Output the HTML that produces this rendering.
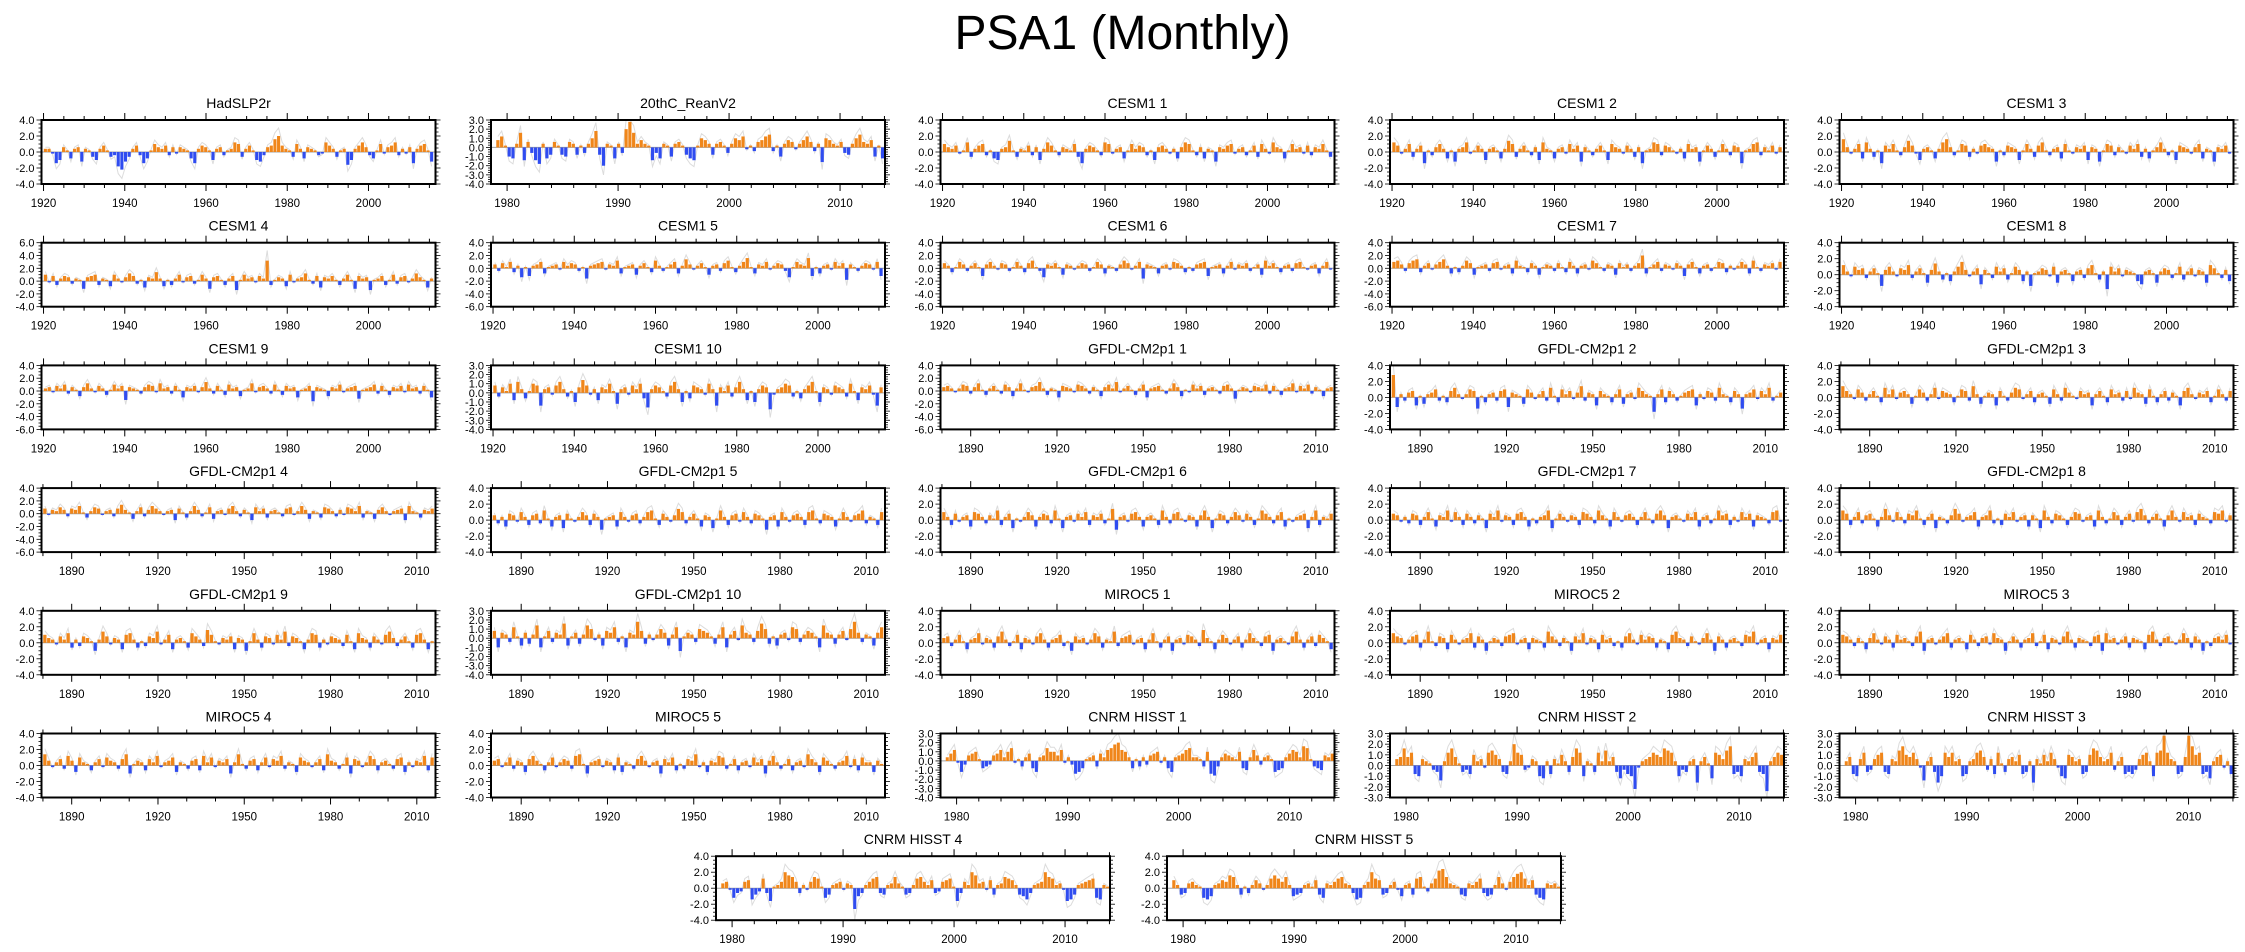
<!DOCTYPE html>
<html><head><meta charset="utf-8">
<style>
html,body{margin:0;padding:0;background:#fff;}
body{width:2245px;height:952px;overflow:hidden;font-family:"Liberation Sans",sans-serif;}
#title{position:absolute;left:0;width:2245px;top:6px;text-align:center;font-size:48px;line-height:56px;color:#000;}
svg{position:absolute;left:0;top:0;}
</style></head>
<body>
<div id="title">PSA1 (Monthly)</div>
<svg id="fig" width="2245" height="952"></svg>
<script>
// ---- data (binned monthly index values; lowercase = +0.2*n, uppercase = -0.2*n) ----
const panelNames = ["HadSLP2r","20thC_ReanV2","CESM1 1","CESM1 2","CESM1 3",
"CESM1 4","CESM1 5","CESM1 6","CESM1 7","CESM1 8",
"CESM1 9","CESM1 10","GFDL-CM2p1 1","GFDL-CM2p1 2","GFDL-CM2p1 3",
"GFDL-CM2p1 4","GFDL-CM2p1 5","GFDL-CM2p1 6","GFDL-CM2p1 7","GFDL-CM2p1 8",
"GFDL-CM2p1 9","GFDL-CM2p1 10","MIROC5 1","MIROC5 2","MIROC5 3",
"MIROC5 4","MIROC5 5","CNRM HISST 1","CNRM HISST 2","CNRM HISST 3",
"CNRM HISST 4","CNRM HISST 5"];
const panelKinds = ["cesm","cnrm","cesm","cesm","cesm","cesm","cesm","cesm","cesm","cesm",
"cesm","cesm","gfdl","gfdl","gfdl","gfdl","gfdl","gfdl","gfdl","gfdl",
"gfdl","gfdl","gfdl","gfdl","gfdl","gfdl","gfdl","cnrm","cnrm","cnrm","cnrm","cnrm"];
const yMax = [4,3,4,4,4, 6,4,4,4,4, 4,3,4,4,4, 4,4,4,4,4, 4,3,4,4,4, 4,4,3,3,3, 4,4];
const yMin = [-4,-4,-4,-4,-4, -4,-6,-6,-6,-4, -6,-4,-6,-4,-4, -6,-4,-4,-4,-4, -4,-4,-4,-4,-4, -4,-4,-4,-3,-3, -4,-4];
const panelSeries = [
"bbAGEcaDbcFbaCEbdaCBIKFCbdBGDaecbdBcAcbaDGbdcaEbcBabfeCbdaEFBcdhjdbaCebDcbaBAfdbCabHEbdfcBDaeAcdfBbAcGbdeaF",
"dfaEFbhGcCGIbFDcaDEcbDaCbeiDJbaFbCjnhbdbaGCFbaEbcaDFGaedbDbcaCbedfAaBcdfgBaEbdcAbdfcBbHedbacCDbegcbdEaF",
"ecbdAafCbdeBaDEbcgaCbadBcEbfdaBcbaeCGbdcaBfeAbcDaebdcBaEcdbAbDcfeaBcDbaFcbdeAbcBadCebAfcbDaebcAdBcbeaC",
"fdAbeCbdGaBcebDaFbcfAadbEbcaDbgeCbdaBcEfbaDbcAebdFcaBbdaEecbAdbCcGabfeBdcaAbDebcFadbCaebBdcGabefBcadAc",
"hcAbeDfbCaGdbeaBcgdAEbcaDbfhcBaedCbAdecbFaBdcbEaebCdfaBbcDeaAcbdEcbFaedBcaAdbeCbDacfbBaEdcbAceDbaFcbdA",
"eAdCbdcBbaFcdeCbaDebAcfdBaEcbgbDaCbeAcdBaebFcdaCbdGaebcAdbpCacbDeAbcfaBdEcbdaCbeaFdbcGabdCaeBcdAbfcaEb",
"cBdaeCbGaFbceDabcAebdcBaHbcdeAcbfDabcEbdaCfbBaceDbgcAbdaEbcBdfaCbehaDcbeAbdcBGaecbhFaDbcAebdIcaBbdcAeF",
"dbCaecBbdaFcebAdcBaebCdfaBGcbdaEcbAbdcBaecDbaBcfdAbeHcbaDbcAedbCaBcdeFabcDbeAcbdBacEfbdaCbcBdeaAbcDbeA",
"efcBdfgCbdAcegbDaCbfdEabcBdeAbcDfbaCdbEacbBdaCebDbcAfdaBcbEdacBbdjDaceBcbAdbFceaDbcBaedCbAbecDfaBcbdAe",
"fbAecdBbdaGcebAdcfBbdaEcgbCaDbehcAbdFcaBebdCaecDbGabdcAeEbcaDbcBdfaCbIebdAcbaDFbcaEbdcBaeCbdAcbEfdaBcD",
"bcAdbeBcaDcfbAdbCaebdGcbaBcedAfbcBdaEcbdAcgbBdaCebcDabfAcdbBeaCdbcEabdHcbaDcbeAbcdFabceBdaCcbdAebcBdaE",
"dBcaeDfbCaedGbcAdfbBaEcgdAbDcbeaFbcAdbeCHbdcaBdfbEaCdcbAebGcadBcfbDaEbdcIAbcedBaCbdfaEcbAdcbBeaDcbdAGc",
"cdbAbedBcfaCbdaBecDbfaAcdgbCbaEdcbAedbBcaDcebgAbdaCbeEbcdaBbfcDaAebdCbcaBdebFacbAdcbeBdaCbcfAdbeBcaDbc",
"nFbBcdEaDbceBaCdfbAbedGaCbcBdeFcbaDecAbdBfaCebdAcgBcbEdbaCbeDbcAfdbaIbeCdbBacdeEbAdcBfbaCdbGbceAdbfBac",
"gdbAecBbdaCfbeAcdbDaecBbfAdcbCaedBgbDacbEdaBcfeAbdCbcaDebBfcaAdbcEbdaCebcBdAfcbDeaCbdBcaEdfbAcbdCaebBd",
"dAcbecBdcfaCbedAbcBdgcaDbeBcfdbAbcEdaCbfcBaeDbcAdfbBcaEebdCbcaBdeAbfcDbaCedbBcAedbfCbaDcebAbcdEfbaCcbd",
"cBbDdcAebCcdBfaDbcEdaAbecCdbFabcDebAcdBbefaCdbAcgeBbdaDcbEafbCcdAebBdcaFbcDebAcdbCefaBdcbDaebAcdfBbaCe",
"ebCdAbcDedbBcafCbdEaAbecDbdcBfaEbcAdbeCcbdBagFbcAdebDbcaCfbBdeaAcbDcfbEadcBbecAdbCafdbBceDaAbcdEbfCbad",
"dcAbBdcCbeaDcbfAebCdbBcaEdbfAcbCdebDaBbcfEadbAcbCedbBfcaDebAcdbCbeaBdfcEbcaAdbeDbcBafcdCbAebdDcbaBefA",
"fdCbeBcdaDbgcAebBdcfaCbdEbaBcgdAbceDbcfBaCdbeAbcDcaEfbBdcaCbedAbcDfbBaecCbdAegcBbdaDcfbAebcCdbaBedfAc",
"ecbAdbfCbBdcaEbgdAcbDefbCaBdcgAbeDbcaCfdbBheaAcbdDcbEafbCdcAebgBdcaDbfeCbAdcbBeaDfcbCdbAegcBbdaCefbDa",
"dEcbBfaDcCbgEadBcbhDacCbgeAbDdcfBaEcbidCbAbecDbfGacbBedcaCbfEbdAgcbBdheCaDbcAfeBbdcaEgcbCbdAeicBbaDcf",
"cdBbeaDbcfAcbCdgbBaeDcbAdfbCbceBaEdbcAbfdCbagBcdeAbcDbfaCbdEbcAedbBhcaDbecAbdCbfcaBdeEbcaAdgbCbdBecaD",
"fdcAbdeCbgaBdcDebAbcfCdbEacbBdefAbcDcbaCgdbBcaEdbfAcbDebcBaCdfbAebdcCbaDegcbBdaAcfbEdbCbcaBedgAbcDcbe",
"edbBcaDcfbAdbCebcaBdgEbcAbdfCbcaDebBcdAfcbEadbCbcfBaeDcbAdgbCcbaBdeEfbcAbdCcbaDegbBcdaAbfcCdbEaBcdbeA",
"gcAbdBfcDebaCbdAecbBdgEacbCdbfAbceDbaBcdCfbeAcbdEbgaBcdCbeAdcfBbaDecbAbdCgcbBaeEdcAbfdCbcaBdeDbAcbfCe",
"cdAbeBcbDdfcaCbeAbdcBfgaEbcdAcbCeDbaBdfcAbcEdbeCaBdcgAbDcbfeBadCbcAebdEcfbBadCbcAgdbDecaBbcfAdCebbDca",
"bdfAFBcdeaDCBcdfbegAaCbdDFbcgeecfAbBGFDabcCdbfgijfebDaCbBcdeAbDFbcdfgbbaCeGHCbdcbaeDEbfcBbcaFEDbdfebhgaCDEcbd",
"cdhdfDEcbaBCGbfhdaCBDebcAfgecCDbjfeBAcbEFbDcaebCdhfEbaCfbgbdCFBDEKAbcdfedhgfbEBCbcHbdaFfecgiDCEcbdfCDLbdfe",
"bdDEcfCBcefCDcbgiedfcAGbdCHEfdfbcEDbcfgdBcDfaCcdbeDCbHcaebfcAEFedbcDCehgdbcfBbdDCDBcefbEfgnfcbDCdniefDCFbdeAbD",
"cdAFCBdeGDBfCHabdjhgdCbAdgfaFDbcdAcbMECbdfgCDbcgcaDCbfgdbeCBdefaHCdbjhcdAeDbcgfebDEGCbcdjgfbcAHGDbcdefFGba",
"ebDCcdbaFGEbcedhgbDaCbecAbfhfdgbEDCbcaeDFcbdfgcbCGFbdjfeDCbdAEbcDfgaBcfklgcbaDEcbdfCEDbgcAdgijfbeDFGcbca"
];
const cesmTicks = [1920,1940,1960,1980,2000];
const gfdlTicks = [1890,1920,1950,1980,2010];
const cnrmTicks = [1980,1990,2000,2010];

const kindCfg = {
  cesm:{ax0:1919.5, ax1:2016.5, d0:1920, d1:2016, ticks:cesmTicks, minor:5},
  gfdl:{ax0:1879.5, ax1:2016.5, d0:1880, d1:2016, ticks:gfdlTicks, minor:10},
  cnrm:{ax0:1978.55, ax1:2014.05, d0:1979, d1:2014, ticks:cnrmTicks, minor:2}
};
const W=394, H=64;
const NS="http://www.w3.org/2000/svg";
const svg=document.getElementById('fig');
function mk(tag, attrs, parent){const e=document.createElementNS(NS,tag);for(const k in attrs)e.setAttribute(k,attrs[k]);(parent||svg).appendChild(e);return e;}
function decode(s){const out=[];for(const ch of s){if(ch>='a'&&ch<='z')out.push((ch.charCodeAt(0)-96)*0.2);else if(ch>='A'&&ch<='Z')out.push(-(ch.charCodeAt(0)-64)*0.2);else out.push(0);}return out;}

function panelPos(i){
  if(i<30){const r=Math.floor(i/5), c=i%5;return [41.5+c*449.5, 120+r*122.7];}
  return [i===30?716:1167, 120+6*122.7];
}

panelNames.forEach((name,i)=>{
  const cfg=kindCfg[panelKinds[i]];
  const [L,T]=panelPos(i);
  const g=mk('g',{});
  
  
  const xs=y=>L+(y-cfg.ax0)/(cfg.ax1-cfg.ax0)*W;
  const ys=v=>T+(yMax[i]-v)/(yMax[i]-yMin[i])*H;
  const vals=decode(panelSeries[i]);
  const n=vals.length, bin=(cfg.d1-cfg.d0)/n, binPx=bin/(cfg.ax1-cfg.ax0)*W;
  let pts=vals.map((v,k)=>{const yy=Math.max(yMin[i],Math.min(yMax[i],v*1.5));return xs(cfg.d0+(k+0.5)*bin).toFixed(1)+','+ys(yy).toFixed(1);}).join(' ');
  const gl=mk('polyline',{points:pts,fill:'none',stroke:'#dcdcdc','stroke-width':1},g);
  
  
  mk('line',{x1:L,x2:L+W,y1:ys(0),y2:ys(0),stroke:'#a0a0a0','stroke-width':1},g);
  const bw=Math.max(1.5,binPx*0.85);
  vals.forEach((v,k)=>{
    if(v===0)return;
    const cx=xs(cfg.d0+(k+0.5)*bin);
    const y0=ys(0), y1=ys(v);
    const b=mk('rect',{x:(cx-bw/2).toFixed(2),y:Math.min(y0,y1).toFixed(2),width:bw.toFixed(2),height:Math.abs(y1-y0).toFixed(2),fill:v>0?'#f0861a':'#2f4cf0'},g);
    
    
  });
  mk('rect',{x:L,y:T,width:W,height:H,fill:'none',stroke:'#000','stroke-width':2},g);
  for(let y=Math.ceil(cfg.ax0);y<=cfg.ax1;y++){
    if(y%cfg.minor!==0)continue;
    const major=((y-cfg.ticks[0])%(cfg.ticks[1]-cfg.ticks[0])===0);
    const len=major?7:4, x=xs(y);
    mk('line',{x1:x,x2:x,y1:T,y2:T-len,stroke:'#000','stroke-width':1},g);
    mk('line',{x1:x,x2:x,y1:T+H,y2:T+H+len,stroke:'#000','stroke-width':1},g);
  }
  cfg.ticks.forEach(y=>{
    const t=mk('text',{x:xs(y),y:T+H+23,'font-size':11.5,'text-anchor':'middle',fill:'#000'},g);
    t.textContent=y;
    
    
  });
  const step=(yMax[i]===3||yMin[i]===-3)?1:2;
  const mstep=step/4;
  for(let v=yMin[i];v<=yMax[i]+1e-6;v+=mstep){
    const major=Math.abs(v/step-Math.round(v/step))<1e-6;
    const len=major?5:3, y=ys(v);
    mk('line',{x1:L,x2:L-len,y1:y,y2:y,stroke:'#000','stroke-width':0.8},g);
    mk('line',{x1:L+W,x2:L+W+len,y1:y,y2:y,stroke:'#000','stroke-width':0.8},g);
    if(major){
      const t=mk('text',{x:L-7,y:y+4,'font-size':11,'text-anchor':'end',fill:'#000'},g);
      t.textContent=v.toFixed(1);
      
      
    }
  }
  const tt=mk('text',{x:L+W/2,y:T-12,'font-size':14,'text-anchor':'middle',fill:'#000'},g);
  tt.textContent=name;
  
  
});
</script>
</body></html>
